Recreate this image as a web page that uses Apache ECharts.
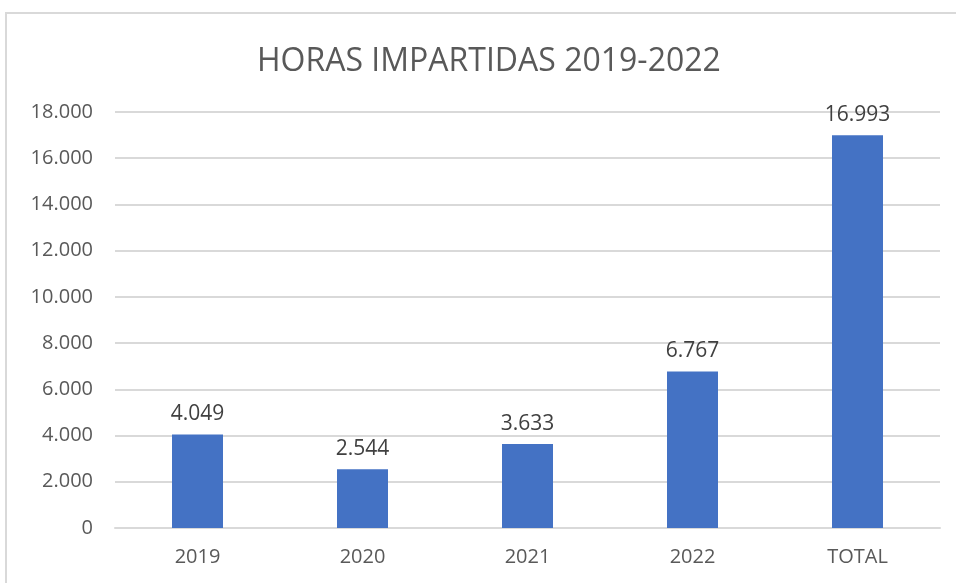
<!DOCTYPE html>
<html>
<head>
<meta charset="utf-8">
<script src="https://cdn.jsdelivr.net/npm/echarts@6/dist/echarts.min.js"></script>
<style>
  html, body { margin: 0; padding: 0; background: #fff; }
  #frame { position: absolute; left: 5px; top: 12px; width: 1000px; height: 700px; border: 2px solid #d9d9d9; box-sizing: border-box; }
  #chart { position: absolute; left: 0; top: 0; width: 956px; height: 583px; }
</style>
</head>
<body>
<div id="frame"></div>
<div id="chart"></div>
<script>
var categories = ['2019', '2020', '2021', '2022', 'TOTAL'];
var horas = [4049, 2544, 3633, 6767, 16993];

function fmt(v) {
  return String(v).replace(/\B(?=(\d{3})+(?!\d))/g, '.');
}

var chart = echarts.init(document.getElementById('chart'));
chart.setOption({
  textStyle: { fontFamily: 'Open Sans' },
  title: {
    text: 'HORAS IMPARTIDAS 2019-2022',
    left: 252,
    top: 41,
    textStyle: { fontSize: 32, fontWeight: 'normal', color: '#595959', fontFamily: 'Open Sans' }
  },
  grid: { left: 115, right: 16, top: 112, bottom: 55 },
  xAxis: {
    type: 'category',
    data: categories,
    axisLine: { lineStyle: { color: '#d9d9d9', width: 2 } },
    axisTick: { show: false },
    axisLabel: { fontSize: 20, color: '#595959', margin: 19 }
  },
  yAxis: {
    type: 'value',
    min: 0,
    max: 18000,
    interval: 2000,
    axisLine: { show: false },
    axisTick: { show: false },
    splitLine: { lineStyle: { color: '#d9d9d9', width: 2 } },
    axisLabel: { fontSize: 20, color: '#595959', margin: 22, formatter: fmt }
  },
  series: [{
    type: 'bar',
    data: horas,
    barWidth: 51,
    itemStyle: { color: '#4472c4' },
    label: {
      show: true,
      position: 'top',
      distance: 10,
      fontSize: 21,
      color: '#404040',
      formatter: function (p) { return fmt(p.value); }
    }
  }]
});
</script>
</body>
</html>
